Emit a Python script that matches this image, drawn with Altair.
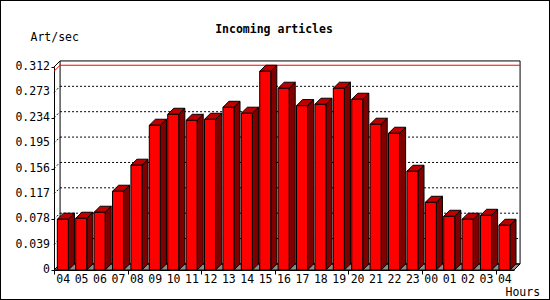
import altair as alt
import pandas as pd

# ---- data ----
hours = ["04", "05", "06", "07", "08", "09", "10", "11", "12", "13", "14", "15",
         "16", "17", "18", "19", "20", "21", "22", "23", "00", "01", "02", "03", "04"]
values = [0.078, 0.0795, 0.0887, 0.121, 0.161, 0.2224, 0.2393, 0.230, 0.2316,
          0.250, 0.2409, 0.3054, 0.2793, 0.2526, 0.2547, 0.2793, 0.2624, 0.224,
          0.2101, 0.1517, 0.104, 0.0825, 0.078, 0.084, 0.0687]
y_ticks = [0, 0.039, 0.078, 0.117, 0.156, 0.195, 0.234, 0.273, 0.312]
y_tick_labels = ["0", "0.039", "0.078", "0.117", "0.156", "0.195", "0.234", "0.273", "0.312"]
title = "Incoming articles"
y_title = "Art/sec"
x_title = "Hours"

# ---- geometry of the pseudo-3D look (in data units) ----
N = len(values)
YMAX = y_ticks[-1]
L, R = 0.18, 0.78          # front face within a slot
D = 0.33                   # depth, x units
E = 0.0093                 # depth, y units
FONT = "DejaVu Sans Mono"
FS = 11.5

W, H = 460, 203
xs = alt.Scale(domain=[0, N], nice=False, zero=False)
ys = alt.Scale(domain=[0, YMAX], nice=False, zero=False)

# tables built from the lists
front = pd.DataFrame({"i": range(N), "v": values})
front["x"] = front["i"] + L
front["x2"] = front["i"] + R
front["y0"] = 0.0

side_rows, top_rows = [], []
for i, v in enumerate(values):
    side_rows.append({"i": i, "x": i + R, "lo": 0.0, "hi": v})
    side_rows.append({"i": i, "x": i + R + D, "lo": E, "hi": v + E})
    top_rows.append({"i": i, "y": v, "xl": i + L, "xr": i + R})
    top_rows.append({"i": i, "y": v + E, "xl": i + L + D, "xr": i + R + D})
side = pd.DataFrame(side_rows)
top = pd.DataFrame(top_rows)

floor = pd.DataFrame({"y": [0.0, E], "xl": [0.0, D], "xr": [float(N), N + D]})

grid_rows = []
for t in y_ticks[1:-1]:
    grid_rows.append({"x": 0.0, "x2": D, "y": t, "y2": t + E})
    grid_rows.append({"x": D, "x2": N + D, "y": t + E, "y2": t + E})
grid = pd.DataFrame(grid_rows)

vmax = max(values)
maxline = pd.DataFrame([{"x": 0.0, "x2": D, "y": vmax, "y2": vmax + E},
                        {"x": D, "x2": N + D, "y": vmax + E, "y2": vmax + E}])

frame_diag = pd.DataFrame([{"x": 0.0, "x2": D, "y": YMAX, "y2": YMAX + E}])
back = pd.DataFrame([{"x": D, "x2": N + D, "y": E, "y2": YMAX + E}])

labels = pd.DataFrame({"pos": [i + 0.5 for i in range(N)], "hour": hours, "zero": 0.0})
ylabels = pd.DataFrame({"t": y_ticks, "lab": y_tick_labels, "zero": 0.0})

# ---- layers ----
y_axis = alt.Axis(values=y_ticks, grid=False, tickSize=3, labels=False,
                  domainColor="black", tickColor="black",
                  title=y_title, titleAngle=0, titleX=-24, titleY=-30,
                  titleAlign="left", titleBaseline="middle", titleFont=FONT,
                  titleFontSize=FS, titleFontWeight="normal", titleColor="black")
x_axis = alt.Axis(values=list(range(N + 1)), grid=False, tickSize=4, labels=False,
                  domainColor="black", tickColor="black",
                  title=x_title, titleX=451, titleY=22, titleAlign="left",
                  titleBaseline="middle", titleFont=FONT, titleFontSize=FS,
                  titleFontWeight="normal", titleColor="black")

floor_l = alt.Chart(floor).mark_area(orient="horizontal", fill="#8c8c8c",
                                     stroke="black", strokeWidth=1).encode(
    y=alt.Y("y:Q", scale=ys, axis=y_axis),
    x=alt.X("xl:Q", scale=xs, axis=x_axis),
    x2="xr:Q",
)

back_l = alt.Chart(back).mark_rect(fill="transparent", stroke="black", strokeWidth=1).encode(
    x=alt.X("x:Q", scale=xs), x2="x2:Q", y=alt.Y("y:Q", scale=ys), y2="y2:Q")

grid_l = alt.Chart(grid).mark_rule(color="black", strokeWidth=1, strokeDash=[2, 2]).encode(
    x=alt.X("x:Q", scale=xs), x2="x2:Q", y=alt.Y("y:Q", scale=ys), y2="y2:Q")

diag_l = alt.Chart(frame_diag).mark_rule(color="black", strokeWidth=1).encode(
    x=alt.X("x:Q", scale=xs), x2="x2:Q", y=alt.Y("y:Q", scale=ys), y2="y2:Q")

max_l = alt.Chart(maxline).mark_rule(color="#ff0000", strokeWidth=1).encode(
    x=alt.X("x:Q", scale=xs), x2="x2:Q", y=alt.Y("y:Q", scale=ys), y2="y2:Q")

side_l = alt.Chart(side).mark_area(orient="vertical", fill="#800000",
                                   stroke="black", strokeWidth=1).encode(
    x=alt.X("x:Q", scale=xs), y=alt.Y("hi:Q", scale=ys), y2="lo:Q", detail="i:N")

top_l = alt.Chart(top).mark_area(orient="horizontal", fill="#c00000",
                                 stroke="black", strokeWidth=1).encode(
    y=alt.Y("y:Q", scale=ys), x=alt.X("xl:Q", scale=xs), x2="xr:Q", detail="i:N")

front_l = alt.Chart(front).mark_rect(fill="#ff0000", stroke="black", strokeWidth=1).encode(
    x=alt.X("x:Q", scale=xs), x2="x2:Q", y=alt.Y("y0:Q", scale=ys), y2="v:Q")

label_l = alt.Chart(labels).mark_text(font=FONT, fontSize=FS, color="black",
                                      baseline="middle", dy=10).encode(
    x=alt.X("pos:Q", scale=xs), y=alt.Y("zero:Q", scale=ys), text="hour:N")

ylabel_l = alt.Chart(ylabels).mark_text(font=FONT, fontSize=FS, color="black",
                                        baseline="middle", align="right", dx=-4).encode(
    x=alt.X("zero:Q", scale=xs), y=alt.Y("t:Q", scale=ys), text="lab:N")

border_l = alt.Chart(labels).mark_rect(fill="transparent", stroke="black", strokeWidth=1).encode(
    x=alt.value(-53.5), x2=alt.value(495.5), y=alt.value(-66.5), y2=alt.value(232.5))

chart = alt.layer(
    floor_l, back_l, grid_l, diag_l, max_l, side_l, top_l, front_l, label_l,
    ylabel_l, border_l
).properties(
    width=W, height=H,
    title=alt.TitleParams(title, font=FONT, fontSize=FS, fontWeight="bold",
                          color="black", anchor="middle", frame="group",
                          dx=-10, offset=-35),
    autosize=alt.AutoSizeParams(type="none"),
    padding={"left": 54, "top": 67, "right": 36, "bottom": 30},
    background="white",
).configure_view(stroke="transparent")

chart.save("out.html", embed_options={"renderer": "svg", "actions": False})
